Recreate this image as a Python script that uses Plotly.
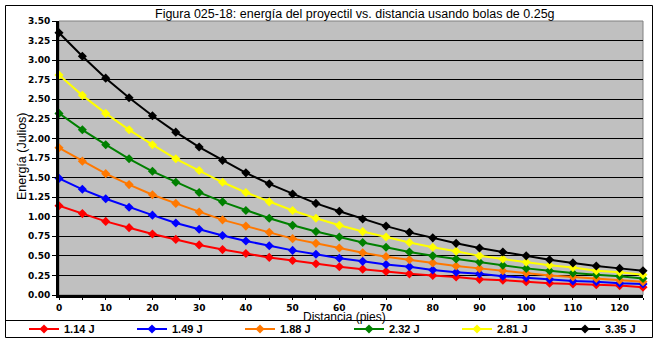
import plotly.graph_objects as go

# ---- data ----
distance = [0, 5, 10, 15, 20, 25, 30, 35, 40, 45, 50, 55, 60, 65, 70, 75, 80,
            85, 90, 95, 100, 105, 110, 115, 120, 125]
labels = ["1.14 J", "1.49 J", "1.88 J", "2.32 J", "2.81 J", "3.35 J"]
e_114 = [1.14, 1.04, 0.94, 0.86, 0.78, 0.71, 0.64, 0.58, 0.53, 0.48, 0.44, 0.40, 0.36,
         0.33, 0.30, 0.27, 0.25, 0.23, 0.20, 0.19, 0.17, 0.15, 0.14, 0.13, 0.12, 0.10]
e_149 = [1.49, 1.35, 1.23, 1.12, 1.02, 0.92, 0.84, 0.76, 0.69, 0.63, 0.57, 0.52, 0.47,
         0.43, 0.39, 0.36, 0.32, 0.29, 0.27, 0.24, 0.22, 0.20, 0.18, 0.17, 0.15, 0.14]
e_188 = [1.88, 1.71, 1.55, 1.41, 1.28, 1.17, 1.06, 0.96, 0.88, 0.80, 0.72, 0.66, 0.60,
         0.54, 0.49, 0.45, 0.41, 0.37, 0.34, 0.31, 0.28, 0.25, 0.23, 0.21, 0.19, 0.17]
e_232 = [2.32, 2.11, 1.92, 1.74, 1.58, 1.44, 1.31, 1.19, 1.08, 0.98, 0.89, 0.81, 0.74,
         0.67, 0.61, 0.55, 0.50, 0.46, 0.42, 0.38, 0.34, 0.31, 0.28, 0.26, 0.24, 0.21]
e_281 = [2.81, 2.55, 2.32, 2.11, 1.92, 1.74, 1.59, 1.44, 1.31, 1.19, 1.08, 0.98, 0.89,
         0.81, 0.74, 0.67, 0.61, 0.56, 0.50, 0.46, 0.42, 0.38, 0.35, 0.31, 0.29, 0.26]
e_335 = [3.35, 3.05, 2.77, 2.52, 2.29, 2.08, 1.89, 1.72, 1.56, 1.42, 1.29, 1.17, 1.07,
         0.97, 0.88, 0.80, 0.73, 0.66, 0.60, 0.55, 0.50, 0.45, 0.41, 0.37, 0.34, 0.31]
series = [e_114, e_149, e_188, e_232, e_281, e_335]
colors = ["#FF0000", "#0000FF", "#FF7800", "#008000", "#FFFF00", "#000000"]

# ---- layout geometry (pixels) ----
W, H = 658, 343
L, R, T, B = 59, 15, 21, 48
PW, PH = W - L - R, H - T - B


def px(x):
    return (x - L) / PW


def py(y):
    return (H - B - y) / PH


fig = go.Figure()
for i, (vals, name, col) in enumerate(zip(series, labels, colors)):
    fig.add_trace(go.Scatter(
        x=distance, y=vals, name=name, mode="lines+markers",
        line=dict(color=col, width=2),
        marker=dict(symbol="diamond", size=7, color=col, line=dict(width=0)),
        cliponaxis=False,
        legend="legend" if i < 3 else "legend2",
    ))

title_font = dict(family="Liberation Sans", size=12.5, color="black")
axis_title_font = dict(family="Liberation Sans", size=12.5, color="black")
tick_font = dict(family="DejaVu Sans", size=9, color="black", weight="bold")
legend_common = dict(
    orientation="h", xref="container", yref="container",
    xanchor="left", yanchor="middle", y=1 - 329 / H,
    font=dict(family="Liberation Sans", size=11, color="black", weight="bold"),
    entrywidth=63, entrywidthmode="pixels", itemwidth=30,
    bgcolor="rgba(0,0,0,0)", borderwidth=0, tracegroupgap=0,
)

fig.update_layout(
    width=W, height=H,
    margin=dict(l=L, r=R, t=T, b=B, pad=0, autoexpand=False),
    paper_bgcolor="white",
    plot_bgcolor="#C0C0C0",
    showlegend=True,
    legend=dict(legend_common, x=24 / W),
    legend2=dict(legend_common, x=349 / W),
    xaxis=dict(
        range=[0, 125], dtick=10, tick0=0, showgrid=False, zeroline=False,
        showline=True, linecolor="black", linewidth=3,
        ticks="outside", ticklen=2, tickwidth=1, tickcolor="black",
        tickfont=tick_font,
        minor=dict(dtick=5, ticks="outside", ticklen=2, tickwidth=1,
                   tickcolor="black", showgrid=False),
    ),
    yaxis=dict(
        range=[0, 3.5], dtick=0.25, tick0=0, tickformat=".2f",
        showgrid=True, gridcolor="black", gridwidth=1, zeroline=False,
        showline=True, linecolor="black", linewidth=3,
        ticks="outside", ticklen=4, tickwidth=1, tickcolor="black",
        tickfont=tick_font,
    ),
    annotations=[
        dict(text="Figura 025-18: energía del proyectil vs. distancia usando bolas de 0.25g",
             x=px(355), y=py(14), xref="paper", yref="paper",
             xanchor="center", yanchor="middle", showarrow=False, font=title_font),
        dict(text="Energía (Julios)", x=px(22), y=py(156), xref="paper", yref="paper",
             xanchor="center", yanchor="middle", showarrow=False, textangle=-90,
             font=axis_title_font),
        dict(text="Distancia (pies)", x=px(344), y=py(317), xref="paper", yref="paper",
             xanchor="center", yanchor="middle", showarrow=False,
             font=dict(axis_title_font, size=12)),
    ],
    shapes=[
        dict(type="rect", xref="paper", yref="paper", x0=0, x1=1, y0=0, y1=1,
             line=dict(color="#808080", width=1), layer="below"),
        dict(type="rect", xref="paper", yref="paper", x0=px(5.5), x1=px(652.5),
             y0=py(337.5), y1=py(5.5), line=dict(color="black", width=1)),
        dict(type="line", xref="paper", yref="paper", x0=px(5.5), x1=px(652.5),
             y0=py(320.5), y1=py(320.5), line=dict(color="black", width=1)),
    ],
)

fig.write_html("out.html")
